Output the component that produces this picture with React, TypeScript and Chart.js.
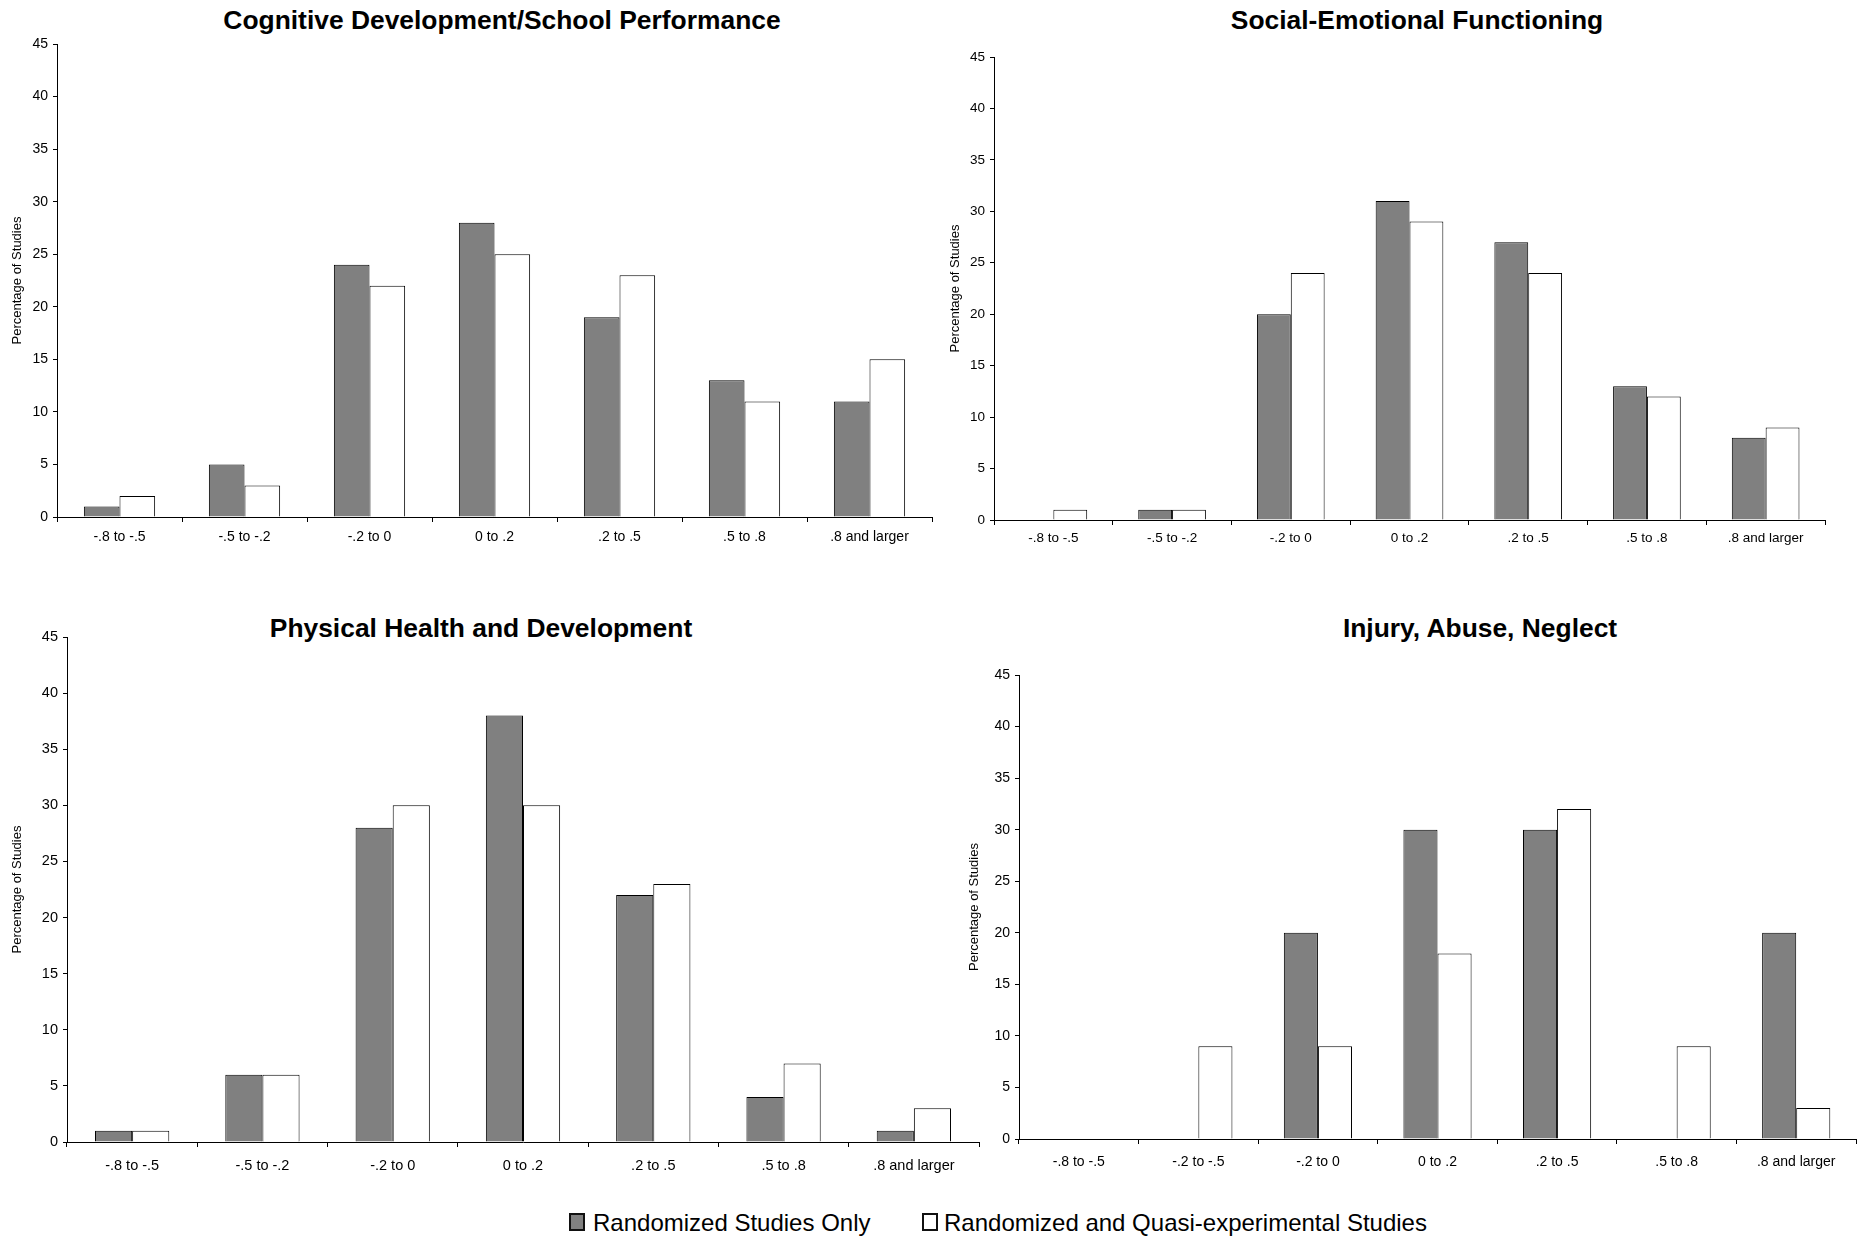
import React, { useEffect, useRef } from "react";
import { Chart, registerables } from "chart.js";

Chart.register(...registerables);

// ---------- data ----------
const effectSizeLabels = ["-.8 to -.5", "-.5 to -.2", "-.2 to 0", "0 to .2", ".2 to .5", ".5 to .8", ".8 and larger"];
const injuryLabels = ["-.8 to -.5", "-.2 to -.5", "-.2 to 0", "0 to .2", ".2 to .5", ".5 to .8", ".8 and larger"];

const cognitiveRandomized = [1, 5, 24, 28, 19, 13, 11];
const cognitiveQuasi = [2, 3, 22, 25, 23, 11, 15];

const socialRandomized = [0, 1, 20, 31, 27, 13, 8];
const socialQuasi = [1, 1, 24, 29, 24, 12, 9];

const physicalRandomized = [1, 6, 28, 38, 22, 4, 1];
const physicalQuasi = [1, 6, 30, 30, 23, 7, 3];

const injuryRandomized = [0, 0, 20, 30, 30, 0, 20];
const injuryQuasi = [0, 9, 9, 18, 32, 9, 3];

const yMin = 0;
const yMax = 45;
const yStep = 5;

const seriesNames = ["Randomized Studies Only", "Randomized and Quasi-experimental Studies"];
const yAxisTitle = "Percentage of Studies";

// ---------- styling / layout ----------
const FONT = "'Liberation Sans', Arial, Helvetica, sans-serif";
const GRAY = "#808080";
const PAD_TOP = 15;
const PAD_RIGHT = 20;
const X_AXIS_H = 45;

type PanelSpec = {
  title: string;
  labels: string[];
  randomized: number[];
  quasi: number[];
  canvasLeft: number;
  chartLeft: number;
  chartRight: number;
  chartTop: number;
  chartBottom: number;
  titleX: number;
  titleY: number;
  yTitlePad: number;
  tickFont: number;
  xPad: number;
};

const panels: PanelSpec[] = [
  {
    title: "Cognitive Development/School Performance",
    labels: effectSizeLabels,
    randomized: cognitiveRandomized,
    quasi: cognitiveQuasi,
    canvasLeft: 0,
    chartLeft: 57,
    chartRight: 932,
    chartTop: 44,
    chartBottom: 517,
    titleX: 502,
    titleY: 20,
    yTitlePad: 10,
    tickFont: 14,
    xPad: 7,
  },
  {
    title: "Social-Emotional Functioning",
    labels: effectSizeLabels,
    randomized: socialRandomized,
    quasi: socialQuasi,
    canvasLeft: 940,
    chartLeft: 994,
    chartRight: 1825,
    chartTop: 57,
    chartBottom: 520,
    titleX: 1417,
    titleY: 20,
    yTitlePad: 8,
    tickFont: 13.5,
    xPad: 5.5,
  },
  {
    title: "Physical Health and Development",
    labels: effectSizeLabels,
    randomized: physicalRandomized,
    quasi: physicalQuasi,
    canvasLeft: 0,
    chartLeft: 67,
    chartRight: 979,
    chartTop: 637,
    chartBottom: 1142,
    titleX: 481,
    titleY: 628,
    yTitlePad: 10,
    tickFont: 14.5,
    xPad: 10,
  },
  {
    title: "Injury, Abuse, Neglect",
    labels: injuryLabels,
    randomized: injuryRandomized,
    quasi: injuryQuasi,
    canvasLeft: 950,
    chartLeft: 1019,
    chartRight: 1856,
    chartTop: 675,
    chartBottom: 1139,
    titleX: 1480,
    titleY: 628,
    yTitlePad: 17,
    tickFont: 14,
    xPad: 10,
  },
];

function Panel({ spec }: { spec: PanelSpec }) {
  const ref = useRef<HTMLCanvasElement | null>(null);
  const width = spec.chartRight + PAD_RIGHT - spec.canvasLeft;
  const height = spec.chartBottom - spec.chartTop + PAD_TOP + X_AXIS_H;
  const yW = spec.chartLeft - spec.canvasLeft;

  useEffect(() => {
    if (!ref.current) return;
    const chart = new Chart(ref.current, {
      type: "bar",
      data: {
        labels: spec.labels,
        datasets: [
          {
            label: seriesNames[0],
            data: spec.randomized,
            backgroundColor: GRAY,
            borderColor: "#000",
            borderWidth: 1,
            categoryPercentage: 0.57,
            barPercentage: 1,
          },
          {
            label: seriesNames[1],
            data: spec.quasi,
            backgroundColor: "#ffffff",
            borderColor: "#000",
            borderWidth: 1,
            categoryPercentage: 0.57,
            barPercentage: 1,
          },
        ],
      },
      options: {
        responsive: false,
        maintainAspectRatio: false,
        animation: false,
        devicePixelRatio: 1,
        layout: { padding: { top: PAD_TOP, right: PAD_RIGHT, left: 0, bottom: 0 } },
        plugins: {
          legend: { display: false },
          title: { display: false },
          tooltip: { enabled: false },
        },
        scales: {
          x: {
            grid: {
              display: true,
              offset: true,
              drawOnChartArea: false,
              drawTicks: true,
              tickLength: 5,
              color: "#000",
            },
            border: { display: true, color: "#000", width: 1 },
            ticks: {
              color: "#000",
              font: { family: FONT, size: spec.tickFont },
              padding: spec.xPad,
              autoSkip: false,
              maxRotation: 0,
            },
            afterFit: (s: any) => {
              s.height = X_AXIS_H;
            },
          },
          y: {
            min: yMin,
            max: yMax,
            ticks: {
              stepSize: yStep,
              color: "#000",
              font: { family: FONT, size: spec.tickFont },
              padding: 5,
            },
            grid: {
              display: true,
              drawOnChartArea: false,
              drawTicks: true,
              tickLength: 4,
              color: "#000",
            },
            border: { display: true, color: "#000", width: 1 },
            title: {
              display: true,
              text: yAxisTitle,
              color: "#000",
              font: { family: FONT, size: 13 },
              padding: { top: spec.yTitlePad, bottom: 0 },
            },
            afterFit: (s: any) => {
              s.width = yW;
            },
          },
        },
      },
    } as any);
    return () => chart.destroy();
  }, []);

  return (
    <>
      <div
        style={{
          position: "absolute",
          left: spec.titleX - 400,
          width: 800,
          top: spec.titleY - 16,
          height: 32,
          lineHeight: "32px",
          textAlign: "center",
          fontFamily: FONT,
          fontWeight: "bold",
          fontSize: 26.4,
          color: "#000",
          whiteSpace: "nowrap",
        }}
      >
        {spec.title}
      </div>
      <canvas
        ref={ref}
        width={width}
        height={height}
        style={{
          position: "absolute",
          left: spec.canvasLeft,
          top: spec.chartTop - PAD_TOP,
          width,
          height,
        }}
      />
    </>
  );
}

function LegendItem({ boxLeft, textLeft, color, text }: { boxLeft: number; textLeft: number; color: string; text: string }) {
  return (
    <>
      <div
        style={{
          position: "absolute",
          left: boxLeft,
          top: 1213,
          width: 12,
          height: 14,
          background: color,
          border: "2px solid #111",
        }}
      />
      <div
        style={{
          position: "absolute",
          left: textLeft,
          top: 1210.5,
          lineHeight: "24px",
          fontFamily: FONT,
          fontSize: 24,
          color: "#000",
          whiteSpace: "nowrap",
        }}
      >
        {text}
      </div>
    </>
  );
}

export default function App() {
  return (
    <div
      style={{
        position: "absolute",
        left: 0,
        top: 0,
        width: 1873,
        height: 1238,
        background: "#fff",
        overflow: "hidden",
      }}
    >
      {panels.map((p, i) => (
        <Panel key={i} spec={p} />
      ))}
      <LegendItem boxLeft={569} textLeft={593} color={GRAY} text={seriesNames[0]} />
      <LegendItem boxLeft={922} textLeft={944} color="#ffffff" text={seriesNames[1]} />
    </div>
  );
}
